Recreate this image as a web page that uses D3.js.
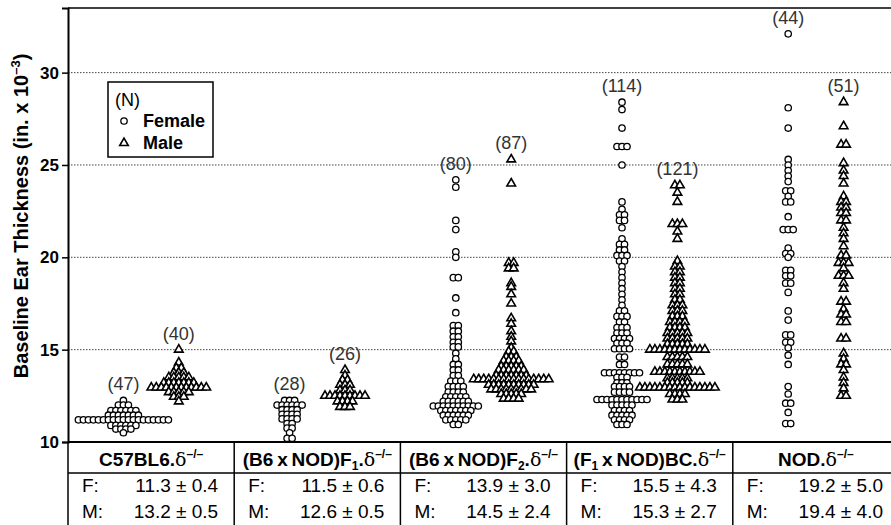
<!DOCTYPE html>
<html>
<head>
<meta charset="utf-8">
<script src="https://cdn.jsdelivr.net/npm/d3@7"></script>
<style>
  body { margin: 0; background: #fff; }
  text { font-family: "Liberation Sans", Arial, Helvetica, sans-serif; }
</style>
</head>
<body>
<svg id="chart" width="891" height="525"></svg>
<script>
// groups, counts and summary rows
var groups = ['C57BL6', 'F1', 'F2', 'BC', 'NOD'];
var femaleN = [47, 28, 80, 114, 44];
var maleN = [40, 26, 87, 121, 51];
var meansF = ['11.3 \u00b1 0.4', '11.5 \u00b1 0.6', '13.9 \u00b1 3.0', '15.5 \u00b1 4.3', '19.2 \u00b1 5.0'];
var meansM = ['13.2 \u00b1 0.5', '12.6 \u00b1 0.5', '14.5 \u00b1 2.4', '15.3 \u00b1 2.7', '19.4 \u00b1 4.0'];
var yTicks = [10, 15, 20, 25, 30];
var gridTicks = [15, 20, 25, 30];

// header labels: [text, kind]
var headers = [
  [['C57BL6.', ''], ['\u03b4', 'delta'], ['\u2013/\u2013', 'sup']],
  [['(B6\u2009x\u2009NOD)F', ''], ['1', 'sub'], ['.', ''], ['\u03b4', 'delta'], ['\u2013/\u2013', 'sup']],
  [['(B6\u2009x\u2009NOD)F', ''], ['2', 'sub'], ['.', ''], ['\u03b4', 'delta'], ['\u2013/\u2013', 'sup']],
  [['(F', ''], ['1', 'sub'], ['\u2009x\u2009NOD)BC.', ''], ['\u03b4', 'delta'], ['\u2013/\u2013', 'sup']],
  [['NOD.', ''], ['\u03b4', 'delta'], ['\u2013/\u2013', 'sup']]
];

// ear thickness readings: [value, number of mice at that value]
var c57Female = [[12.25,1],[12.0,3],[11.7,6],[11.45,7],[11.2,19],[10.9,6],[10.7,4],[10.5,1]];
var c57Male = [[15.0,1],[14.3,1],[14.0,2],[13.75,3],[13.5,5],[13.2,7],[12.95,12],[12.7,5],[12.45,3],[12.2,1]];
var f1Female = [[12.25,3],[12.0,6],[11.75,4],[11.5,4],[11.25,4],[11.0,2],[10.75,2],[10.5,1],[10.2,2]];
var f1Male = [[13.9,1],[13.6,1],[13.35,2],[13.1,3],[12.8,3],[12.5,9],[12.2,4],[11.9,3]];
var f2Female = [[24.2,1],[23.8,1],[22.0,1],[21.5,1],[20.3,1],[20.0,1],[18.9,2],[17.8,1],[17.0,1],
  [16.3,2],[16.0,2],[15.7,2],[15.4,2],[15.15,2],[14.8,1],[14.5,1],[14.2,2],[13.9,2],[13.6,2],
  [13.3,3],[13.0,4],[12.7,4],[12.45,5],[12.2,6],[11.95,10],[11.7,7],[11.45,6],[11.2,5],[10.95,2]];
var f2Male = [[25.3,1],[24.0,1],[19.7,2],[19.4,2],[18.6,1],[18.4,1],[18.0,1],[17.5,1],[16.7,1],
  [16.4,1],[16.0,1],[15.7,1],[15.45,1],[15.1,1],[14.9,2],[14.6,3],[14.4,4],[14.1,5],[13.9,6],
  [13.6,7],[13.4,16],[13.1,10],[12.85,9],[12.6,5],[12.35,4]];
var bcFemale = [[28.4,1],[28.0,1],[27.0,1],[26.0,3],[25.0,1],[23.0,1],[22.6,1],[22.3,2],[22.0,2],
  [21.6,1],[21.0,1],[20.7,2],[20.4,2],[20.1,3],[19.8,2],[19.5,1],[19.2,1],[18.9,1],[18.6,1],
  [18.3,1],[18.0,1],[17.7,1],[17.4,1],[17.1,2],[16.8,3],[16.5,2],[16.2,3],[15.9,3],[15.6,4],
  [15.35,3],[15.05,4],[14.6,2],[14.2,2],[13.75,8],[13.5,3],[13.2,3],[13.0,4],[12.7,4],[12.3,11],
  [12.0,5],[11.7,4],[11.45,5],[11.2,4],[10.95,3]];
var bcMale = [[23.9,2],[23.5,1],[23.0,1],[21.8,3],[21.4,1],[21.0,1],[19.8,1],[19.5,2],[19.2,2],
  [18.9,2],[18.6,2],[18.3,2],[18.0,2],[17.7,2],[17.4,3],[17.1,3],[16.8,3],[16.5,4],[16.2,4],
  [15.9,5],[15.6,5],[15.3,5],[15.0,12],[14.6,5],[14.2,5],[13.8,10],[13.45,5],[13.2,5],[12.95,16],
  [12.6,4],[12.3,3]];
var nodFemale = [[32.1,1],[28.1,1],[27.0,1],[25.3,1],[25.0,1],[24.7,1],[24.4,1],[24.1,1],[23.6,2],
  [23.3,1],[23.0,2],[22.2,1],[21.5,3],[20.5,1],[20.2,2],[20.0,1],[19.3,2],[19.0,2],[18.6,2],
  [18.1,1],[17.1,1],[16.6,1],[15.8,2],[15.4,2],[15.1,1],[14.7,1],[14.2,1],[13.0,1],[12.6,1],
  [12.1,2],[11.6,1],[11.0,2]];
var nodMale = [[28.4,1],[27.1,1],[26.1,2],[25.1,1],[24.7,1],[24.4,1],[24.0,1],[23.3,1],[23.0,2],
  [22.7,2],[22.4,2],[22.0,2],[21.6,1],[21.3,1],[21.0,1],[20.6,1],[20.1,2],[19.7,3],[19.4,1],
  [19.0,3],[18.6,1],[18.3,1],[17.6,2],[17.2,1],[16.9,2],[16.5,2],[15.6,2],[14.8,1],[14.5,1],
  [14.2,2],[13.9,1],[13.5,1],[13.2,1],[12.9,1],[12.5,2]];

var femaleData = [c57Female, f1Female, f2Female, bcFemale, nodFemale];
var maleData = [c57Male, f1Male, f2Male, bcMale, nodMale];

var svg = d3.select('#chart');

var plotLeft = 68, plotTop = 8, plotBottom = 442, plotRight = 899;
var tableMid = 473, tableBottom = 525;
var dx = 5;

// scales
var x = d3.scaleBand().domain(groups).range([plotLeft, plotRight]).padding(0);
var y = d3.scaleLinear().domain([10, 33.5]).range([plotBottom, plotTop]);
var colX = function (g, sex) {
  return x(g) + x.bandwidth() * (sex === 'F' ? 1 / 3 : 2 / 3);
};

// grid lines
svg.append('g').selectAll('line').data(gridTicks).enter().append('line')
  .attr('x1', plotLeft).attr('x2', 891)
  .attr('y1', function (d) { return y(d); })
  .attr('y2', function (d) { return y(d); })
  .style('stroke', '#444')
  .style('stroke-width', 1)
  .style('stroke-dasharray', '1.5,1.5');

// top border
svg.append('line')
  .attr('x1', plotLeft).attr('x2', 891).attr('y1', plotTop).attr('y2', plotTop)
  .style('stroke', '#000').style('stroke-width', 1.5);

// y axis
var yAxis = svg.append('g')
  .attr('transform', 'translate(' + plotLeft + ',0)')
  .call(d3.axisLeft(y).tickValues(yTicks).tickSize(6).tickPadding(3).tickFormat(d3.format('d')));
yAxis.select('.domain').style('stroke-width', 2);
yAxis.selectAll('.tick line').style('stroke-width', 1.5);
yAxis.selectAll('text')
  .style('font-size', '17px')
  .style('font-weight', 'bold')
  .style('font-family', '"Liberation Sans", Arial, sans-serif')
  .attr('fill', '#000');

// axis title
var title = svg.append('text')
  .attr('transform', 'translate(28,216) rotate(-90)')
  .attr('text-anchor', 'middle')
  .style('font-size', '20px')
  .style('font-weight', 'bold')
  .text('Baseline Ear Thickness (in. x 10');
title.append('tspan').attr('dy', -8).style('font-size', '13px').text('\u20133');
title.append('tspan').attr('dy', 8).text(')');

// beeswarm points
function layout(values, cx) {
  var pts = [];
  values.forEach(function (v) {
    for (var i = 0; i < v[1]; i++) {
      pts.push({ x: cx + (i - (v[1] - 1) / 2) * dx, y: y(v[0]), v: v[0] });
    }
  });
  return pts;
}

var tri = d3.symbol().type(d3.symbolTriangle).size(32);

groups.forEach(function (g, i) {
  var fPts = layout(femaleData[i], colX(g, 'F'));
  var mPts = layout(maleData[i], colX(g, 'M'));

  svg.append('g').selectAll('circle').data(fPts).enter().append('circle')
    .attr('cx', function (d) { return d.x; })
    .attr('cy', function (d) { return d.y; })
    .attr('r', 3.2)
    .style('fill', '#fff')
    .style('stroke', '#000')
    .style('stroke-width', 1.3);

  svg.append('g').selectAll('path').data(mPts).enter().append('path')
    .attr('d', tri)
    .attr('transform', function (d) { return 'translate(' + d.x + ',' + d.y + ')'; })
    .style('fill', '#fff')
    .style('stroke', '#000')
    .style('stroke-width', 1.6);

  // N labels
  var fMax = d3.max(femaleData[i], function (d) { return d[0]; });
  var mMax = d3.max(maleData[i], function (d) { return d[0]; });
  svg.append('text')
    .attr('x', colX(g, 'F')).attr('y', y(fMax) - 10)
    .attr('text-anchor', 'middle')
    .style('font-size', '18px').style('fill', '#333')
    .text('(' + femaleN[i] + ')');
  svg.append('text')
    .attr('x', colX(g, 'M')).attr('y', y(mMax) - 10)
    .attr('text-anchor', 'middle')
    .style('font-size', '18px').style('fill', '#333')
    .text('(' + maleN[i] + ')');
});

// table under the plot
svg.append('line')
  .attr('x1', plotLeft).attr('x2', 891).attr('y1', plotBottom).attr('y2', plotBottom)
  .style('stroke', '#000').style('stroke-width', 2);
svg.append('line')
  .attr('x1', plotLeft).attr('x2', 891).attr('y1', tableMid).attr('y2', tableMid)
  .style('stroke', '#000').style('stroke-width', 1.5);
svg.append('g').selectAll('line').data(groups).enter().append('line')
  .attr('x1', function (d) { return x(d); })
  .attr('x2', function (d) { return x(d); })
  .attr('y1', plotBottom).attr('y2', tableBottom)
  .style('stroke', '#000').style('stroke-width', 1.5);

function richText(sel, parts) {
  var prev = 0;
  parts.forEach(function (p) {
    var shift = p[1] === 'sup' ? -8 : (p[1] === 'sub' ? 4 : 0);
    var t = sel.append('tspan').attr('dy', shift - prev).text(p[0]);
    if (p[1] === 'sup' || p[1] === 'sub') { t.style('font-size', '12px'); }
    if (p[1] === 'delta') {
      t.style('font-family', '"DejaVu Serif", "Liberation Serif", serif').style('font-weight', 'normal');
    }
    prev = shift;
  });
}

groups.forEach(function (g, i) {
  var x0 = x(g), w = x.bandwidth();
  var h = svg.append('text')
    .attr('x', x0 + w / 2).attr('y', 466)
    .attr('text-anchor', 'middle')
    .style('font-size', '19px')
    .style('font-weight', 'bold');
  richText(h, headers[i]);

  [['F:', meansF[i], 492], ['M:', meansM[i], 518]].forEach(function (r) {
    svg.append('text')
      .attr('x', x0 + 14).attr('y', r[2])
      .style('font-size', '19px')
      .text(r[0]);
    svg.append('text')
      .attr('x', x0 + w - 16).attr('y', r[2])
      .attr('text-anchor', 'end')
      .style('font-size', '19px')
      .text(r[1]);
  });
});

// legend
var lg = svg.append('g');
lg.append('rect')
  .attr('x', 108).attr('y', 82).attr('width', 105).attr('height', 75)
  .style('fill', '#fff').style('stroke', '#000').style('stroke-width', 1.5);
lg.append('text').attr('x', 115).attr('y', 106).style('font-size', '18px').text('(N)');
lg.append('circle').attr('cx', 124).attr('cy', 121).attr('r', 3.2)
  .style('fill', '#fff').style('stroke', '#000').style('stroke-width', 1.3);
lg.append('text').attr('x', 143).attr('y', 127)
  .style('font-size', '18px').style('font-weight', 'bold').text('Female');
lg.append('path').attr('d', tri).attr('transform', 'translate(124,143)')
  .style('fill', '#fff').style('stroke', '#000').style('stroke-width', 1.6);
lg.append('text').attr('x', 143).attr('y', 149)
  .style('font-size', '18px').style('font-weight', 'bold').text('Male');
</script>
</body>
</html>
